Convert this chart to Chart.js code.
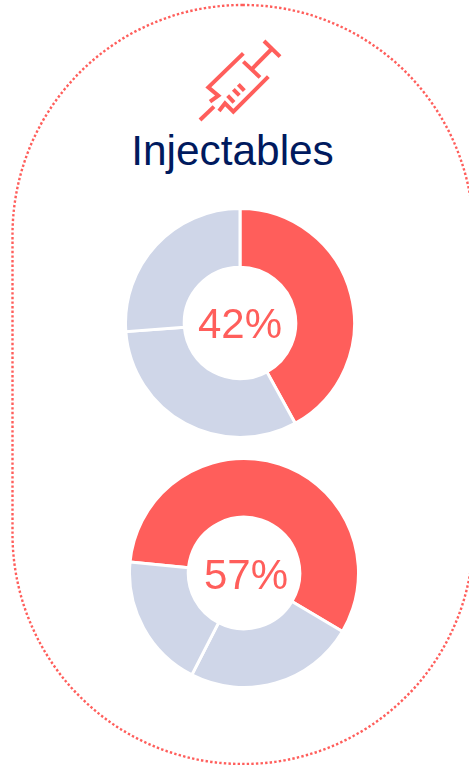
<!DOCTYPE html>
<html>
<head>
<meta charset="utf-8">
<script src="https://cdn.jsdelivr.net/npm/chart.js@4"></script>
<style>
  html, body { margin: 0; padding: 0; background: #fff; overflow: hidden; }
  #stage { position: relative; width: 469px; height: 765px; overflow: hidden; font-family: "Liberation Sans", Arial, sans-serif; }
  #frame, #icon, canvas, #title, .pct { position: absolute; }
  #title { left: 0; width: 465px; top: 127px; text-align: center; font-size: 42.4px; line-height: 48px; color: #001A5E; }
  .pct { font-size: 42px; line-height: 48px; color: #FF5E5B; text-align: center; width: 120px; }
</style>
</head>
<body>
<div id="stage">
  <svg id="frame" width="469" height="765" style="left:0;top:0">
    <rect x="12.5" y="5" width="461" height="759" rx="230" ry="230" fill="none" stroke="#FF5E5B" stroke-width="2.4" stroke-dasharray="2.4 2.2"/>
  </svg>
  <!-- syringe icon -->
  <svg id="icon" width="120" height="100" viewBox="0 0 360 300" style="left:180px;top:30px" fill="none" stroke="#FF5E5B" stroke-width="12">
    <path d="M252 33L300 80M275 57L215 118M190 95L240 142"/>
    <path d="M190 70L85 172L115 197L90 215"/>
    <path d="M265 140L160 245L135 220L117 243"/>
    <path d="M102 230L60 270"/>
    <path d="M175 163L193 182M160 178L178 196M143 197L162 217"/>
  </svg>
  <div id="title">Injectables</div>
  <canvas id="donutTop" width="232" height="232" style="left:124px;top:207px"></canvas>
  <canvas id="donutBottom" width="232" height="232" style="left:128px;top:457px"></canvas>
  <div class="pct" id="pctTop" style="left:180px;top:300px"></div>
  <div class="pct" id="pctBottom" style="left:186px;top:551px"></div>
</div>
<script>
const categories = ['Share', 'Second group', 'Third group'];
const topValues = [42, 31.8, 26.2];
const bottomValues = [57, 24, 19];
const sliceColors = ['#FF5E5B', '#CFD6E8', '#CFD6E8'];

function donut(id, values, rotation) {
  return new Chart(document.getElementById(id), {
    type: 'doughnut',
    data: {
      labels: categories,
      datasets: [{ data: values, backgroundColor: sliceColors, borderColor: '#ffffff', borderWidth: 3 }]
    },
    options: {
      responsive: false,
      animation: false,
      rotation: rotation,
      cutout: '48.7%',
      layout: { padding: 0 },
      plugins: { legend: { display: false }, tooltip: { enabled: false } }
    }
  });
}

donut('donutTop', topValues, 0);
donut('donutBottom', bottomValues, -84.5);
document.getElementById('pctTop').textContent = topValues[0] + '%';
document.getElementById('pctBottom').textContent = bottomValues[0] + '%';
</script>
</body>
</html>
